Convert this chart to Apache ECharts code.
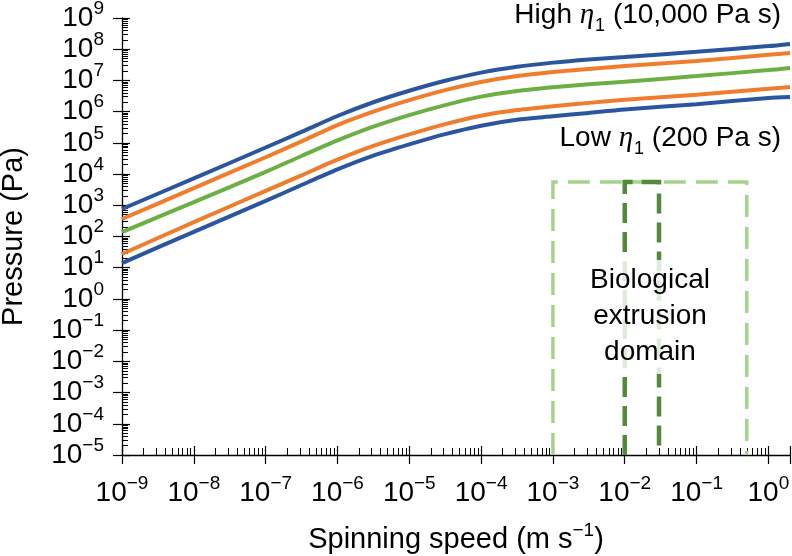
<!DOCTYPE html>
<html><head><meta charset="utf-8">
<script src="https://cdn.jsdelivr.net/npm/echarts@6/dist/echarts.min.js"></script>
<style>html,body{margin:0;padding:0;background:#fff}#c{width:792px;height:556px}</style>
</head><body><div id="c"></div>
<script>
// Spinning speed (m s^-1)
const speeds = [1e-9, 1e-8, 1e-7, 3.16e-7, 1e-6, 3.16e-6, 1e-5, 3.16e-5, 1e-4, 3.16e-4, 1e-3, 3.16e-3, 1e-2, 1e-1, 1, 2];
// Pressure (Pa), from high to low viscosity
const highBlue   = [759, 7244, 70800, 2.24e5, 7.24e5, 2.0e6, 4.68e6, 9.77e6, 1.78e7, 2.75e7, 3.72e7, 4.68e7, 5.62e7, 8.32e7, 1.26e8, 1.48e8];
const highOrange = [363, 3548, 34670, 1.12e5, 3.72e5, 1.0e6, 2.34e6, 4.9e6, 8.91e6, 1.38e7, 1.86e7, 2.34e7, 2.88e7, 4.17e7, 6.61e7, 7.59e7];
const midGreen   = [138, 1259, 11750, 38020, 1.2e5, 3.31e5, 7.76e5, 1.62e6, 3.02e6, 4.57e6, 6.03e6, 7.59e6, 9.12e6, 1.38e7, 2.14e7, 2.51e7];
const lowOrange  = [27.5, 288, 2884, 9120, 28840, 79430, 1.86e5, 3.98e5, 7.41e5, 1.12e6, 1.48e6, 1.91e6, 2.4e6, 3.47e6, 5.37e6, 6.17e6];
const lowBlue    = [14.1, 141, 1380, 4467, 14125, 38900, 89125, 1.9e5, 3.55e5, 5.5e5, 7.08e5, 9.12e5, 1.17e6, 1.74e6, 2.75e6, 2.95e6];
// Biological extrusion domain boxes: [speed from, speed to, pressure top]
const outerDomain = [1e-3, 0.5, 5600];
const innerDomain = [1e-2, 3e-2, 5600];
// axis ranges
const xRange = [1e-9, 2];
const yRange = [1e-5, 1e9];

const FONT = '"Liberation Sans", Arial, Helvetica, sans-serif';
const BLUE = '#2c55a0', ORANGE = '#f07d2e', GREEN = '#6cb044';
const LIGHTG = '#a6d38c', DARKG = '#52893a';

function expText(e) { return '{a|10}{b|' + (e < 0 ? '\u2212' + (-e) : e) + '}'; }
function expLabel(v) { return expText(Math.round(Math.log10(v))); }
// y labels are split over two overlaid axes (even / odd powers) so the tall labels never collide
function expLabelParity(parity) {
  return function (v) {
    const e = Math.round(Math.log10(v));
    return (Math.abs(e) % 2 === parity) ? expText(e) : '';
  };
}
const tickRich = {
  a: { fontSize: 28, fontFamily: FONT, color: '#000', lineHeight: 38 },
  b: { fontSize: 19, fontFamily: FONT, color: '#000', lineHeight: 19, verticalAlign: 'top' }
};

function lineSeries(data, color) {
  return {
    type: 'line', xAxisIndex: 0, yAxisIndex: 0,
    data: speeds.map((s, i) => [s, data[i]]),
    showSymbol: false, smooth: 0.25, z: 3,
    lineStyle: { color: color, width: 4 }, silent: true
  };
}

function boxSeries(box, color, width, dash) {
  return {
    type: 'custom', xAxisIndex: 0, yAxisIndex: 0, z: 2, silent: true,
    encode: { x: [0, 1], y: 2 },
    data: [box],
    renderItem: function (params, api) {
      const x0 = api.value(0), x1 = api.value(1), top = api.value(2);
      const pts = [api.coord([x0, yRange[0]]), api.coord([x0, top]), api.coord([x1, top]), api.coord([x1, yRange[0]])];
      return { type: 'polyline', shape: { points: pts }, style: { stroke: color, lineWidth: width, lineDash: dash, fill: null } };
    }
  };
}

const chart = echarts.init(document.getElementById('c'), null, { renderer: 'canvas' });
const baseAxis = { type: 'log', logBase: 10, splitLine: { show: false } };
const annRich = {
  t: { fontSize: 28, fontFamily: FONT, fill: '#000', lineHeight: 28, verticalAlign: 'top' },
  i: { fontSize: 29, fontFamily: '"Liberation Serif", "DejaVu Serif", serif', fontStyle: 'italic', fill: '#000', lineHeight: 28, verticalAlign: 'top' },
  s: { fontSize: 18, fontFamily: FONT, fill: '#000', lineHeight: 18, verticalAlign: 'top', padding: [16, 0, 0, 1] }
};
const yLabelBase = { show: true, margin: 18, rich: tickRich, showMinLabel: true, showMaxLabel: true };
chart.setOption({
  animation: false,
  backgroundColor: '#fff',
  grid: { left: 122, right: 2, top: 18, bottom: 101, containLabel: false, outerBoundsMode: 'none' },
  xAxis: [
    Object.assign({}, baseAxis, {
      min: xRange[0], max: xRange[1], interval: 1, splitNumber: 10, position: 'bottom',
      axisLine: { show: true, lineStyle: { color: '#000', width: 1.3 } },
      axisTick: { show: true, inside: true, length: 9, lineStyle: { color: '#000', width: 1.2 } },
      minorTick: { show: true, splitNumber: 9, length: 7, lineStyle: { color: '#000', width: 1 } },
      axisLabel: { show: true, margin: 19, formatter: expLabel, rich: tickRich, showMinLabel: true, showMaxLabel: false },
      name: '{a|Spinning speed (m s}{b|\u22121}{a|)}', nameLocation: 'middle', nameGap: 66,
      nameTextStyle: { rich: {
        a: { fontSize: 29, fontFamily: FONT, color: '#000', lineHeight: 38 },
        b: { fontSize: 19, fontFamily: FONT, color: '#000', lineHeight: 19, verticalAlign: 'top' } } }
    }),
    Object.assign({}, baseAxis, {
      min: xRange[0], max: xRange[1], interval: 1, splitNumber: 10, position: 'bottom',
      axisLine: { show: false },
      axisTick: { show: true, inside: false, length: 9, lineStyle: { color: '#000', width: 1.2 } },
      axisLabel: { show: false }
    })
  ],
  yAxis: [
    Object.assign({}, baseAxis, {
      min: yRange[0], max: yRange[1], interval: 1, splitNumber: 14, position: 'left',
      axisLine: { show: true, lineStyle: { color: '#000', width: 1.3 } },
      axisTick: { show: true, inside: true, length: 8, lineStyle: { color: '#000', width: 1.2 } },
      minorTick: { show: true, splitNumber: 9, length: 6, lineStyle: { color: '#000', width: 1 } },
      axisLabel: Object.assign({}, yLabelBase, { formatter: expLabelParity(0) }),
      name: 'Pressure (Pa)', nameLocation: 'middle', nameGap: 94, nameRotate: 90,
      nameTextStyle: { fontSize: 29, fontFamily: FONT, color: '#000' }
    }),
    Object.assign({}, baseAxis, {
      min: yRange[0], max: yRange[1], interval: 1, splitNumber: 14, position: 'left',
      axisLine: { show: false },
      axisTick: { show: true, inside: false, length: 9, lineStyle: { color: '#000', width: 1.2 } },
      axisLabel: Object.assign({}, yLabelBase, { formatter: expLabelParity(1) })
    })
  ],
  series: [
    boxSeries(outerDomain, LIGHTG, 3.5, [22, 10]),
    boxSeries(innerDomain, DARKG, 4.5, [20, 9]),
    lineSeries(lowBlue, BLUE),
    lineSeries(lowOrange, ORANGE),
    lineSeries(midGreen, GREEN),
    lineSeries(highOrange, ORANGE),
    lineSeries(highBlue, BLUE)
  ],
  graphic: [
    { type: 'text', z: 10, x: 781, y: 1, style: {
        text: '{t|High }{i|\u03b7}{s|1}{t| (10,000 Pa s)}', align: 'right', verticalAlign: 'top', rich: annRich } },
    { type: 'text', z: 10, x: 781, y: 124, style: {
        text: '{t|Low }{i|\u03b7}{s|1}{t| (200 Pa s)}', align: 'right', verticalAlign: 'top', rich: annRich } },
    { type: 'text', z: 10, x: 650, y: 260, style: {
        text: 'Biological\nextrusion\ndomain', align: 'center', verticalAlign: 'top',
        fontSize: 28, fontFamily: FONT, fill: '#000', lineHeight: 36,
        backgroundColor: 'rgba(255,255,255,0.82)', padding: [2, 4, 4, 4]
      } }
  ]
});
</script>
</body></html>
